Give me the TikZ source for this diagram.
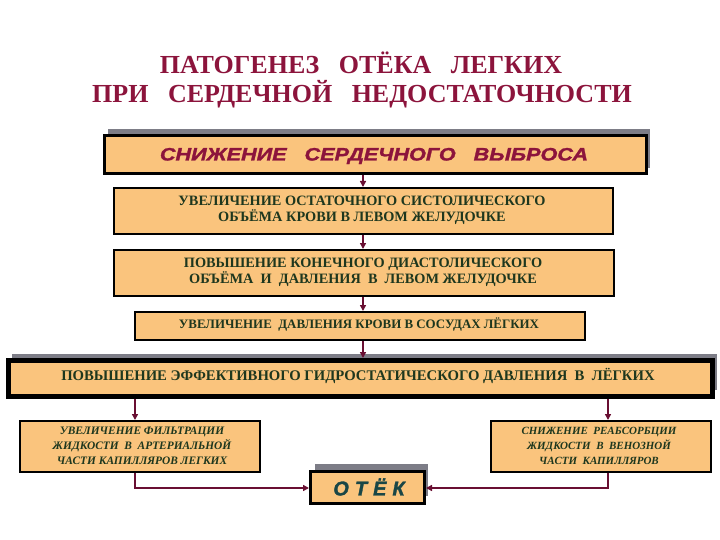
\documentclass[tikz,border=0pt]{standalone}
\usepackage{fontspec}
\setmainfont{Liberation Serif}
\setsansfont{Liberation Sans}
\usetikzlibrary{arrows.meta}
\definecolor{titlered}{RGB}{140,20,60}
\definecolor{boxfill}{RGB}{250,196,125}
\definecolor{greentext}{RGB}{30,55,30}
\definecolor{tealtext}{RGB}{25,70,70}
\definecolor{linecol}{RGB}{105,15,50}
\definecolor{shadowgray}{RGB}{125,125,135}
\tikzset{
  box/.style={draw=black, fill=boxfill, line width=2pt, inner sep=0pt, anchor=north west},
  greenfont/.style={text=greentext, align=center},
  conn/.style={draw=linecol, line width=1.6pt, -{Triangle[length=6pt,width=6pt]}},
}
\newcommand{\boxat}[6]{% name, x1,y1,x2,y2, style
  \node[box,#6, minimum width={(#4-#2)*1pt}, minimum height={(#5-#3)*1pt}] (#1) at (#2,#3) {};}
\begin{document}
\begin{tikzpicture}[x=1pt,y=-1pt]
\useasboundingbox (0,0) rectangle (720,540);
% title
\node[text=titlered, font=\fontsize{26}{30}\selectfont\bfseries] (t1) at (361,63) {ПАТОГЕНЕЗ\ \ \ ОТЁКА\ \ \ ЛЕГКИХ};
\node[text=titlered, font=\fontsize{26}{30}\selectfont\bfseries] (t2) at (362,94) {ПРИ\ \ \ СЕРДЕЧНОЙ\ \ \ НЕДОСТАТОЧНОСТИ};
% shadows
\fill[shadowgray] (108,129) rectangle (650,168);
\fill[shadowgray] (12,354) rectangle (717,390);
\fill[shadowgray] (315,464) rectangle (428,496);
% boxes
\boxat{b1}{103}{134}{645}{172}{line width=3pt}
\boxat{b2}{113}{187}{612}{233}{}
\boxat{b3}{113}{249}{613}{295}{}
\boxat{b4}{134}{311}{584}{339}{}
\boxat{b5}{6}{358}{710}{394}{line width=5pt}
\boxat{b6}{19}{420}{259}{471}{}
\boxat{b7}{490}{420}{710}{471}{}
\boxat{b8}{309}{470}{423}{502}{line width=3pt}
% texts
\node[text=titlered, font=\sffamily\bfseries\itshape\fontsize{18}{20}\selectfont] (x1) at (374,156) {\addfontfeatures{FakeBold=1.5}\scalebox{1.2}[1]{СНИЖЕНИЕ\ \ \ СЕРДЕЧНОГО\ \ \ ВЫБРОСА}};
\node[greenfont, font=\fontsize{14.3}{16}\selectfont\bfseries] (x2) at (362,210) {УВЕЛИЧЕНИЕ ОСТАТОЧНОГО СИСТОЛИЧЕСКОГО\\ОБЪЁМА КРОВИ В ЛЕВОМ ЖЕЛУДОЧКЕ};
\node[greenfont, font=\fontsize{14.3}{16}\selectfont\bfseries] (x3) at (363,272) {ПОВЫШЕНИЕ КОНЕЧНОГО ДИАСТОЛИЧЕСКОГО\\ОБЪЁМА\ \ И\ \ ДАВЛЕНИЯ\ \ В\ \ ЛЕВОМ ЖЕЛУДОЧКЕ};
\node[greenfont, font=\fontsize{12.9}{15}\selectfont\bfseries] (x4) at (359,325) {УВЕЛИЧЕНИЕ\ \ ДАВЛЕНИЯ КРОВИ В СОСУДАХ ЛЁГКИХ};
\node[greenfont, font=\fontsize{14.7}{17}\selectfont\bfseries] (x5) at (358,376) {ПОВЫШЕНИЕ ЭФФЕКТИВНОГО ГИДРОСТАТИЧЕСКОГО ДАВЛЕНИЯ\ \ В\ \ ЛЁГКИХ};
\node[greenfont, font=\fontsize{11.4}{15}\selectfont\bfseries\itshape] (x6) at (142,446) {УВЕЛИЧЕНИЕ ФИЛЬТРАЦИИ\\ЖИДКОСТИ\ \ В\ \ АРТЕРИАЛЬНОЙ\\ЧАСТИ КАПИЛЛЯРОВ ЛЕГКИХ};
\node[greenfont, font=\fontsize{11}{15}\selectfont\bfseries\itshape] (x7) at (599,446) {СНИЖЕНИЕ\ \ РЕАБСОРБЦИИ\\ЖИДКОСТИ\ \ В\ \ ВЕНОЗНОЙ\\ЧАСТИ\ \ КАПИЛЛЯРОВ};
\node[text=tealtext, font=\sffamily\bfseries\itshape\fontsize{20}{22}\selectfont] (x8) at (369,487) {\addfontfeatures{FakeBold=1.5}О\hspace{6pt}Т\hspace{6pt}Ё\hspace{6pt}К};
% connectors
\coordinate (ax) at (363,0);
\coordinate (al) at (135,0);
\coordinate (ar) at (608,0);
\coordinate (ay) at (0,488);
\draw[conn] (b1.south -| ax) -- (b2.north -| ax);
\draw[conn] (b2.south -| ax) -- (b3.north -| ax);
\draw[conn] (b3.south -| ax) -- (b4.north -| ax);
\draw[conn] (b4.south -| ax) -- (b5.north -| ax);
\draw[conn] (b5.south -| al) -- (b6.north -| al);
\draw[conn] (b5.south -| ar) -- (b7.north -| ar);
\draw[conn] (b6.south -| al) |- (b8.west |- ay);
\draw[conn] (b7.south -| ar) |- (b8.east |- ay);
\end{tikzpicture}
\end{document}
